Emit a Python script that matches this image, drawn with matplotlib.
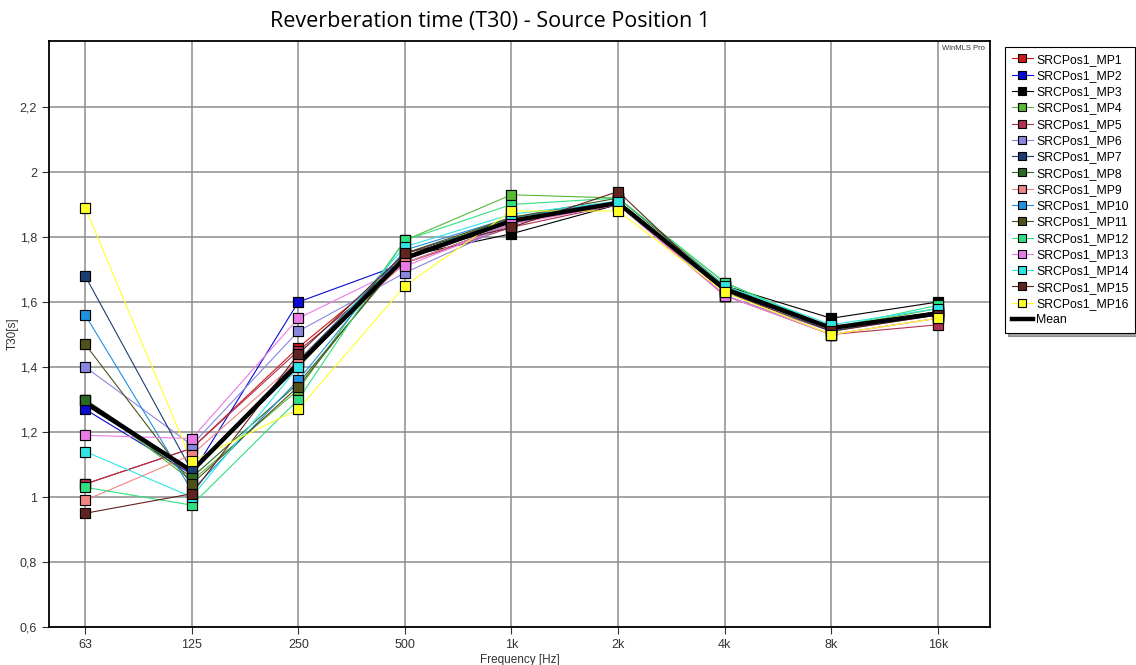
import matplotlib.pyplot as plt
from matplotlib.ticker import FuncFormatter

# ---------------- data ----------------
FREQS = ["63", "125", "250", "500", "1k", "2k", "4k", "8k", "16k"]

MP1  = [1.04, 1.15, 1.46, 1.73, 1.85, 1.91, 1.64, 1.52, 1.56]
MP2  = [1.27, 1.07, 1.60, 1.72, 1.84, 1.91, 1.63, 1.52, 1.56]
MP3  = [1.30, 1.08, 1.40, 1.74, 1.81, 1.90, 1.65, 1.55, 1.60]
MP4  = [1.30, 1.05, 1.33, 1.79, 1.93, 1.92, 1.66, 1.52, 1.58]
MP5  = [1.04, 1.15, 1.45, 1.72, 1.83, 1.90, 1.62, 1.50, 1.53]
MP6  = [1.40, 1.16, 1.51, 1.69, 1.84, 1.91, 1.62, 1.51, 1.56]
MP7  = [1.68, 1.08, 1.42, 1.75, 1.85, 1.91, 1.64, 1.52, 1.57]
MP8  = [1.30, 1.06, 1.35, 1.74, 1.86, 1.91, 1.65, 1.52, 1.57]
MP9  = [0.99, 1.13, 1.42, 1.72, 1.84, 1.90, 1.62, 1.50, 1.55]
MP10 = [1.56, 1.02, 1.36, 1.76, 1.86, 1.91, 1.64, 1.51, 1.57]
MP11 = [1.47, 1.04, 1.34, 1.75, 1.86, 1.92, 1.65, 1.52, 1.57]
MP12 = [1.03, 0.975, 1.30, 1.79, 1.90, 1.92, 1.66, 1.52, 1.59]
MP13 = [1.19, 1.18, 1.55, 1.71, 1.84, 1.90, 1.62, 1.50, 1.55]
MP14 = [1.14, 1.00, 1.40, 1.77, 1.87, 1.91, 1.65, 1.53, 1.58]
MP15 = [0.95, 1.01, 1.44, 1.75, 1.83, 1.94, 1.63, 1.51, 1.56]
MP16 = [1.89, 1.11, 1.27, 1.65, 1.88, 1.88, 1.63, 1.50, 1.55]
MEAN = [1.29, 1.08, 1.41, 1.735, 1.85, 1.905, 1.64, 1.52, 1.565]

SERIES = [MP1, MP2, MP3, MP4, MP5, MP6, MP7, MP8,
          MP9, MP10, MP11, MP12, MP13, MP14, MP15, MP16]
NAMES = [f"SRCPos1_MP{i}" for i in range(1, 17)]
COLORS = ["#d01818", "#0a0ad0", "#000000", "#58b838", "#b03050", "#8a86e0",
          "#1c3c72", "#2a6a22", "#f08484", "#2090e0", "#50501a", "#30e080",
          "#ea7ae8", "#30e4e4", "#602420", "#ffff28"]

plt.rcParams["font.family"] = ["Liberation Sans", "DejaVu Sans"]

fig = plt.figure(figsize=(11.36, 6.65), dpi=100)
ax = fig.add_axes([0.0431, 0.0571, 0.8284, 0.8812])
x = list(range(len(FREQS)))

handles = []
for vals, name, col in zip(SERIES, NAMES, COLORS):
    h, = ax.plot(x, vals, color=col, lw=0.8, marker="s", ms=7.5,
                 mec="black", mew=0.8, mfc=col, label=name, zorder=2)
    handles.append(h)
hm, = ax.plot(x, MEAN, color="black", lw=3.2, label="Mean", zorder=3)
handles.append(hm)
for vals, col in zip(SERIES, COLORS):
    ax.plot(x, vals, ls="none", marker="s", ms=7.5, mec="black", mew=0.8,
            mfc=col, zorder=4)

ax.set_xlim(-0.34, 8.49)
ax.set_ylim(0.6, 2.403)
ax.set_xticks(x)
ax.set_xticklabels(FREQS)
ax.set_yticks([0.6, 0.8, 1.0, 1.2, 1.4, 1.6, 1.8, 2.0, 2.2])
ax.yaxis.set_major_formatter(FuncFormatter(lambda v, p: f"{v:g}".replace(".", ",")))
ax.tick_params(labelsize=9, colors="#333333", length=5, width=0.8)
ax.grid(color="#8c8c8c", lw=1.1)
ax.set_axisbelow(True)
for s in ax.spines.values():
    s.set_linewidth(1.3)

ax.set_xlabel("Frequency [Hz]", fontsize=8.5, color="#333333", labelpad=2)
ax.set_ylabel("T30[s]", fontsize=8.5, color="#333333", va="center")
ax.yaxis.set_label_coords(-0.038, 0.5)
fig.text(490 / 1136, 1 - 21 / 665, "Reverberation time (T30) - Source Position 1",
         fontsize=15.5, family=["Open Sans", "DejaVu Sans"], ha="center", va="center")
ax.text(0.995, 0.993, "WinMLS Pro", transform=ax.transAxes, fontsize=5.5,
        ha="right", va="top", color="#333333")

leg = fig.legend(handles=handles, loc="upper left", bbox_to_anchor=(0.8847, 0.9293),
                 borderaxespad=0, fontsize=8.8, frameon=True, fancybox=False, shadow=True,
                 handlelength=1.7, handletextpad=0.3, labelspacing=0.35,
                 borderpad=0.55, markerscale=0.8)
leg.get_frame().set_edgecolor("black")
leg.get_frame().set_linewidth(0.8)

fig.savefig("out.png", dpi=100)
